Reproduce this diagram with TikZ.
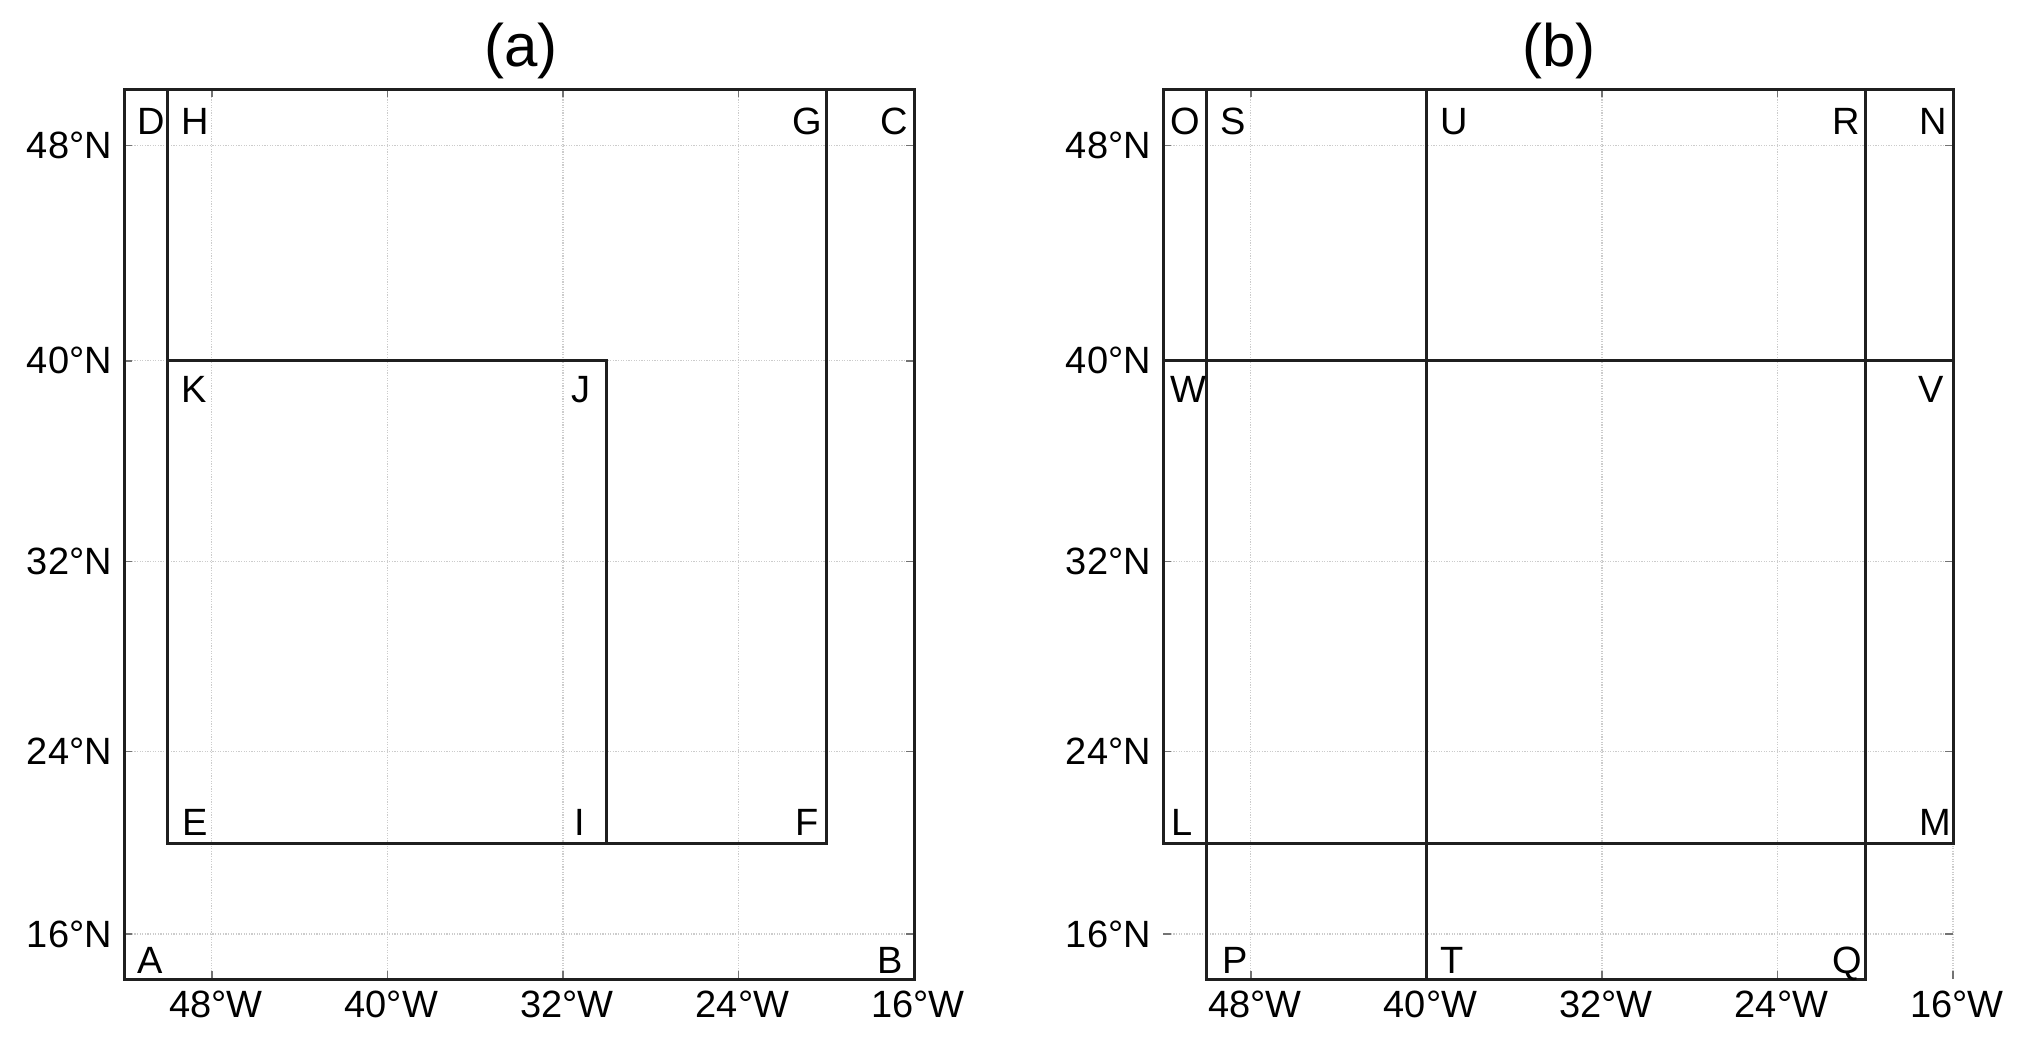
\documentclass[tikz,border=0pt]{standalone}
\usepackage{fontspec}
\setmainfont{Liberation Sans}
\begin{document}
\begin{tikzpicture}[x=1pt,y=-1pt,
  frame/.style={line width=3pt, black!88},
  gridl/.style={line width=1.3pt, black!20, dash pattern=on 1.2pt off 1.4pt},
  tickl/.style={line width=1.5pt, black!55},
  lbl/.style={font=\fontsize{38}{40}\selectfont, anchor=base, inner sep=0pt},
  ticklab/.style={font=\fontsize{38}{40}\selectfont, inner sep=0pt},
  ttl/.style={font=\fontsize{60}{64}\selectfont, inner sep=0pt}]
\useasboundingbox (0,0) rectangle (2027,1045);

% grid, ticks and tick labels for both panels
\foreach \o in {0,1039}{
  \foreach \gx/\t in {211.8/48,387.4/40,562.9/32,738.5/24,914/16}{
    \draw[gridl] (\gx+\o,89) -- (\gx+\o,979);
    \draw[tickl] (\gx+\o,979) -- (\gx+\o,971);
    \draw[tickl] (\gx+\o,89) -- (\gx+\o,97);
    \node[ticklab, anchor=north] (lon\t\o) at (\gx+\o+4,991) {\t°W};
  }
  \foreach \gy/\t in {934.1/16,751.3/24,561.3/32,360.8/40,145.7/48}{
    \draw[gridl] (124+\o,\gy) -- (914+\o,\gy);
    \draw[tickl] (124+\o,\gy) -- (132+\o,\gy);
    \draw[tickl] (914+\o,\gy) -- (906+\o,\gy);
    \node[ticklab, anchor=east] (lat\t\o) at (112+\o,\gy) {\t°N};
  }
}

% panel (a) frames
\draw[frame] (124,89) rectangle (914,979);
\draw[frame] (167.9,89) rectangle (826.3,843.5);
\draw[frame] (167.9,360.8) rectangle (606.8,843.5);

% panel (b) frames
\draw[frame] (1163,89) rectangle (1953,843.5);
\draw[frame] (1206.9,89) rectangle (1865.3,979);
\draw[frame] (1426.4,89) -- (1426.4,979);
\draw[frame] (1163,360.8) -- (1953,360.8);

% titles
\node[ttl] (ta) at (521,51) {(a)};
\node[ttl] (tb) at (1559,51) {(b)};

% panel (a) letters
\node[lbl] (D) at (151,134) {D};
\node[lbl] (H) at (195.5,134) {H};
\node[lbl] (G) at (807,134) {G};
\node[lbl] (C) at (894,134) {C};
\node[lbl] (K) at (194,402) {K};
\node[lbl] (J) at (581,402) {J};
\node[lbl] (E) at (195,835) {E};
\node[lbl] (I) at (580,835) {I};
\node[lbl] (F) at (807,835) {F};
\node[lbl] (A) at (150.5,973) {A};
\node[lbl] (B) at (890,973) {B};

% panel (b) letters
\node[lbl] (O) at (1185,134) {O};
\node[lbl] (S) at (1233,134) {S};
\node[lbl] (U) at (1454,134) {U};
\node[lbl] (R) at (1846,134) {R};
\node[lbl] (N) at (1933.5,134) {N};
\node[lbl] (W) at (1188,402) {W};
\node[lbl] (V) at (1931,402) {V};
\node[lbl] (L) at (1182,835) {L};
\node[lbl] (M) at (1935,835) {M};
\node[lbl] (P) at (1235,973) {P};
\node[lbl] (T) at (1452,973) {T};
\node[lbl] (Q) at (1847,973) {Q};
\end{tikzpicture}
\end{document}
